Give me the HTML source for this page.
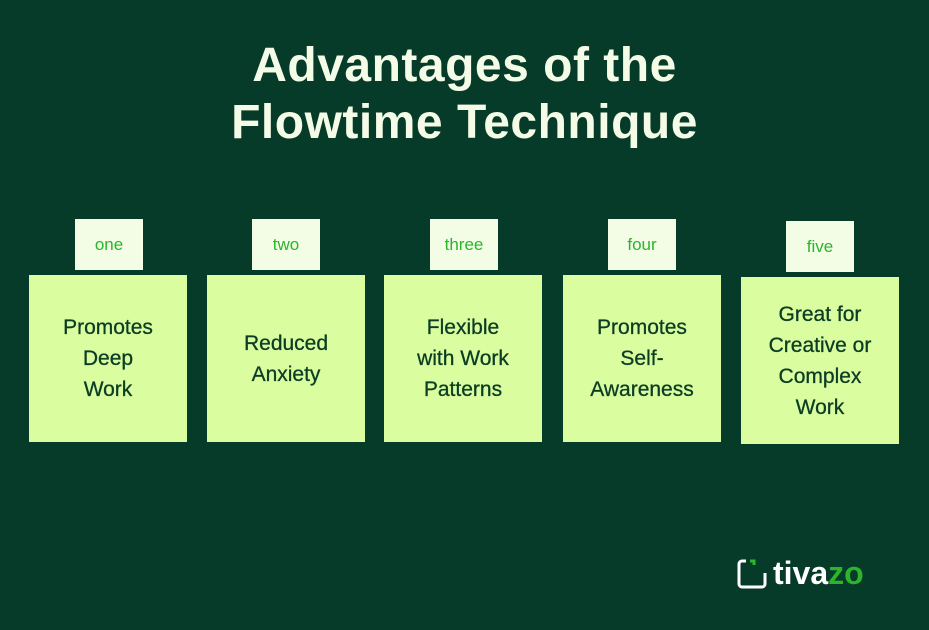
<!DOCTYPE html>
<html><head><style>
body{margin:0;width:929px;height:630px;background:#073b29;font-family:"Liberation Sans",sans-serif;position:relative;overflow:hidden}
.t{position:absolute;left:0;width:929px;text-align:center;color:#f4fbe6;font-weight:bold;font-size:48px;line-height:57px;top:37px;letter-spacing:0.5px}
.tag{position:absolute;width:68px;height:51px;background:#f3fde6;color:#2bb52b;font-size:17px;text-align:center;line-height:51px}
.box{position:absolute;width:158px;height:167px;background:#dafd9f;color:#0b3d24;font-size:21px;line-height:31px;display:flex;align-items:center;justify-content:center;text-align:center;-webkit-text-stroke:0.3px #0b3d24}
.logo{position:absolute;font-size:32px;font-weight:bold;color:#fff}
</style></head><body>
<div class="t">Advantages of the<br>Flowtime Technique</div>
<div class="tag" style="left:75px;top:219px">one</div>
<div class="tag" style="left:252px;top:219px">two</div>
<div class="tag" style="left:430px;top:219px">three</div>
<div class="tag" style="left:608px;top:219px">four</div>
<div class="tag" style="left:786px;top:221px">five</div>
<div class="box" style="left:29px;top:275px">Promotes<br>Deep<br>Work</div>
<div class="box" style="left:207px;top:275px">Reduced<br>Anxiety</div>
<div class="box" style="left:384px;top:275px">Flexible<br>with Work<br>Patterns</div>
<div class="box" style="left:563px;top:275px">Promotes<br>Self-<br>Awareness</div>
<div class="box" style="left:741px;top:277px">Great for<br>Creative or<br>Complex<br>Work</div>
<svg style="position:absolute;left:736px;top:558px" width="32" height="32"><path d="M10 3H6a3 3 0 0 0-3 3v20a3 3 0 0 0 3 3h20a3 3 0 0 0 3-3V15" fill="none" stroke="#fff" stroke-width="3"/><path d="M14 3h4v4" fill="none" stroke="#2bb52b" stroke-width="3"/></svg>
<div class="logo" style="left:773px;top:555px">tiva<span style="color:#2bb52b">zo</span></div>
</body></html>
